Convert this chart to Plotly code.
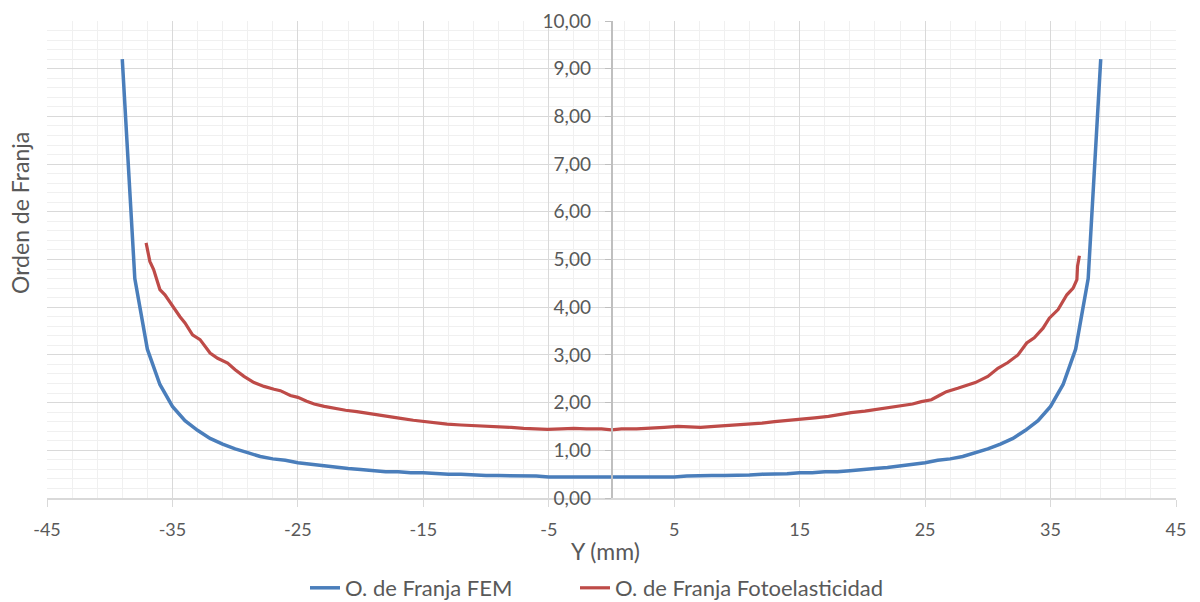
import plotly.graph_objects as go

# FEM fringe order, sampled every 1 mm (symmetric profile)
fem_y = [-39, -38, -37, -36, -35, -34, -33, -32, -31, -30, -29, -28, -27, -26,
         -25, -24, -23, -22, -21, -20, -19, -18, -17, -16, -15, -14, -13, -12,
         -11, -10, -9, -8, -7, -6, -5, -4, -3, -2, -1, 0,
         1, 2, 3, 4, 5, 6, 7, 8, 9, 10, 11, 12, 13, 14, 15, 16, 17, 18, 19,
         20, 21, 22, 23, 24, 25, 26, 27, 28, 29, 30, 31, 32, 33, 34, 35, 36,
         37, 38, 39]
fem_n = [9.20, 4.60, 3.12, 2.38, 1.92, 1.62, 1.42, 1.25, 1.13, 1.03, 0.95, 0.87,
         0.82, 0.79, 0.74, 0.71, 0.67, 0.64, 0.62, 0.60, 0.57, 0.55, 0.55, 0.53,
         0.53, 0.51, 0.50, 0.50, 0.48, 0.47, 0.47, 0.47, 0.47, 0.46, 0.44, 0.44,
         0.44, 0.44, 0.44, 0.44,
         0.44, 0.44, 0.44, 0.44, 0.44, 0.46, 0.47, 0.47, 0.47, 0.47, 0.48, 0.50,
         0.50, 0.51, 0.53, 0.53, 0.55, 0.55, 0.57, 0.60, 0.62, 0.64, 0.67, 0.71,
         0.74, 0.79, 0.82, 0.87, 0.95, 1.03, 1.13, 1.25, 1.42, 1.62, 1.92, 2.38,
         3.12, 4.60, 9.20]

# Photoelastic fringe order
foto_y = [-37.1, -36.8, -36.5, -36.0, -35.6, -35.0, -34.4, -34.0, -33.4, -32.8,
          -32.0, -31.4, -30.6, -30.0, -29.3, -28.5, -27.7, -26.9, -26.4, -25.6,
          -25.0, -24.3, -23.7, -22.9, -22.1, -21.2, -20.3, -19.4, -18.4, -17.6,
          -16.8, -15.8, -14.9, -14.0, -13.1, -12.0, -10.9, -10.0, -9.1, -8.0,
          -7.0, -6.0, -5.1, -4.0, -3.0, -2.0, -0.8, 0.0, 0.8, 2.0, 3.2, 4.2,
          5.3, 6.2, 7.1, 8.2, 9.3, 10.2, 11.1, 12.0, 13.0, 14.0, 15.1, 16.2,
          17.3, 18.2, 19.1, 20.2, 21.3, 22.2, 23.1, 24.0, 24.7, 25.5, 26.2,
          26.7, 27.6, 28.3, 29.0, 30.0, 30.8, 31.6, 32.4, 33.1, 33.7, 34.4,
          34.9, 35.6, 36.3, 36.8, 37.1, 37.15, 37.3]
foto_n = [5.35, 4.96, 4.79, 4.37, 4.26, 4.02, 3.80, 3.67, 3.42, 3.32,
          3.04, 2.93, 2.83, 2.69, 2.55, 2.42, 2.34, 2.28, 2.25, 2.15,
          2.11, 2.03, 1.97, 1.92, 1.88, 1.84, 1.81, 1.77, 1.74, 1.70,
          1.67, 1.63, 1.60, 1.57, 1.55, 1.53, 1.52, 1.51, 1.50, 1.48,
          1.46, 1.45, 1.44, 1.45, 1.46, 1.45, 1.45, 1.43, 1.45, 1.45, 1.46, 1.48,
          1.50, 1.49, 1.48, 1.50, 1.52, 1.53, 1.55, 1.57, 1.60, 1.63, 1.66, 1.68,
          1.71, 1.75, 1.79, 1.82, 1.86, 1.89, 1.93, 1.97, 2.02, 2.06, 2.16,
          2.23, 2.30, 2.36, 2.42, 2.55, 2.72, 2.84, 3.00, 3.25, 3.36, 3.56,
          3.77, 3.95, 4.26, 4.40, 4.58, 4.86, 5.08]

# Axis ticks (plain hyphen for negatives)
x_ticks = [-45, -35, -25, -15, -5, 5, 15, 25, 35, 45]
x_tick_text = ["-45", "-35", "-25", "-15", "-5", "5", "15", "25", "35", "45"]

TEXT = "#595959"
FONT = "Lato, 'Open Sans', sans-serif"

fig = go.Figure()
fig.add_trace(go.Scatter(
    x=fem_y, y=fem_n, mode="lines", name="O. de Franja FEM",
    line=dict(color="#4A7EBB", width=3.5), legend="legend"))
fig.add_trace(go.Scatter(
    x=foto_y, y=foto_n, mode="lines", name="O. de Franja Fotoelasticidad",
    line=dict(color="#BE4B48", width=3.2), legend="legend2"))

legend_common = dict(orientation="h", xref="container", xanchor="left",
                     yref="container", y=(602 - 588) / 602, yanchor="middle",
                     font=dict(size=22, color=TEXT), bgcolor="rgba(0,0,0,0)")

fig.update_layout(
    width=1200, height=602,
    margin=dict(l=47, r=24, t=21, b=104, autoexpand=False),
    paper_bgcolor="white", plot_bgcolor="white",
    separators=",.",
    font=dict(family=FONT, color=TEXT, size=18),
    showlegend=True,
    legend=dict(legend_common, x=305 / 1200),
    legend2=dict(legend_common, x=575 / 1200),
    xaxis=dict(
        range=[-45, 45], tickvals=x_ticks, ticktext=x_tick_text,
        showline=True, linecolor="#D9D9D9", linewidth=1.5,
        ticks="outside", ticklen=7, tickcolor="#D9D9D9",
        showgrid=True, gridcolor="#D9D9D9", gridwidth=1,
        zeroline=False, ticklabelstandoff=8,
        tickfont=dict(size=18, color=TEXT),
        minor=dict(dtick=2, tick0=-45, showgrid=True, gridcolor="#F0F0F0",
                   gridwidth=1),
    ),
    yaxis=dict(
        range=[0, 10], dtick=1, tickformat=".2f", showline=True,
        linecolor="#BFBFBF", linewidth=1.5, ticks="outside", ticklen=6,
        tickcolor="#BFBFBF", anchor="free", position=0.5,
        ticklabelstandoff=10,
        showgrid=True, gridcolor="#D9D9D9", gridwidth=1, zeroline=False,
        tickfont=dict(size=19, color=TEXT),
        minor=dict(dtick=0.2, showgrid=True, gridcolor="#F0F0F0", gridwidth=1),
    ),
    annotations=[
        dict(text="Y (mm)", x=(605 - 47) / 1129, xref="paper",
             y=-(551 - 498) / 477, yref="paper", yanchor="middle",
             xanchor="center", showarrow=False,
             font=dict(size=23, color=TEXT)),
        dict(text="Orden de Franja", x=(20 - 47) / 1129, xref="paper",
             y=(498 - 213) / 477, yref="paper", xanchor="center",
             yanchor="middle", textangle=-90, showarrow=False,
             font=dict(size=23, color=TEXT)),
    ],
)

fig.write_html("out.html")
